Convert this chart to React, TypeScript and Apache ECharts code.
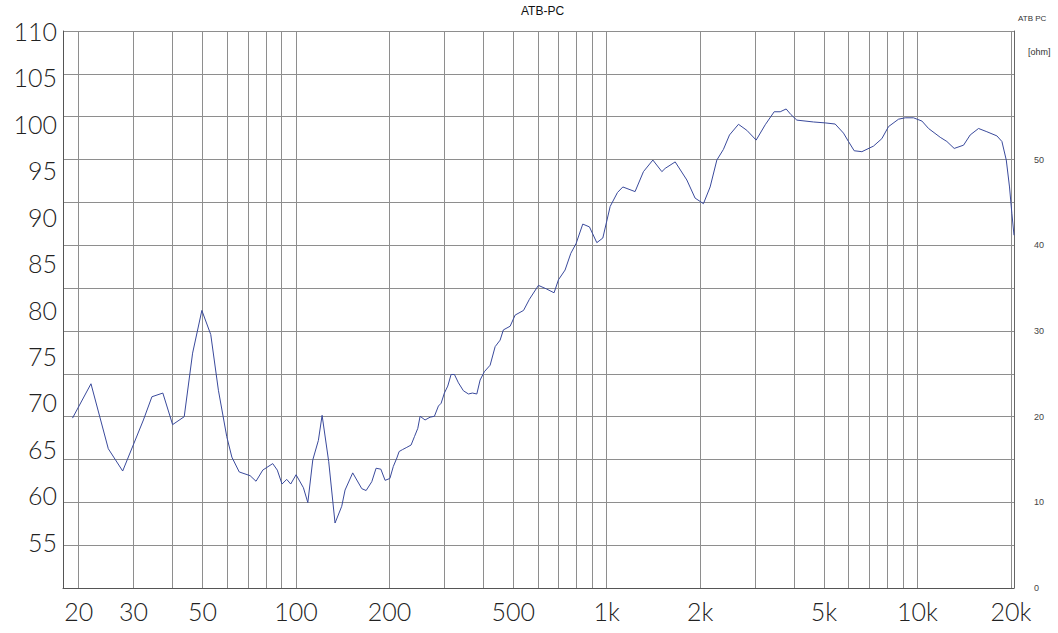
import React, { useEffect, useRef } from "react";
import * as echarts from "echarts";

// Frequency (Hz) of each traced point of the SPL curve
const FREQ = [
  19.1, 21.9, 24.9, 27.7, 32.3, 34.4, 37.3, 40.1, 43.7, 46.5,
  49.8, 53.2, 56.3, 59.9, 62.2, 65.7, 71.2, 74.4, 78.2, 84.2,
  87.1, 90.2, 93.4, 96.2, 100.1, 105.7, 109.2, 113.3, 118.1, 121.4,
  127.5, 133.6, 140.4, 143.9, 152.3, 162.9, 168.2, 175.4, 181.1, 187.6,
  193.6, 200.6, 205.8, 211.2, 214.8, 220, 227.4, 234.7, 240.6, 246.7,
  250.9, 260.3, 270.2, 279, 287.4, 293.2, 300.4, 308, 315.7, 323.6,
  333.4, 345.8, 359, 369.8, 382, 391.4, 404, 421.6, 437.6, 454,
  465, 489, 507.5, 540, 564, 603, 641.4, 677, 699.5, 734.6,
  766.5, 797, 837.6, 880, 929.5, 971.7, 1026, 1083, 1127, 1234,
  1313, 1408, 1505, 1542, 1661, 1811, 1925, 2048, 2152, 2262,
  2375, 2484, 2655, 2825, 3027, 3237, 3459, 3617, 3780, 3915,
  4092, 4629, 5047, 5435, 5781, 5998, 6258, 6625, 7219, 7681,
  8070, 8691, 9132, 9710, 10339, 10856, 11837, 12436, 13129, 14072,
  14780, 15724, 16723, 18019, 18699, 19311, 19781, 20130, 20450,
];

// SPL (dB) at each frequency above
const SPL = [
  68.3, 72.0, 65.0, 62.6, 68.1, 70.6, 71.0, 67.6, 68.45, 75.3,
  79.9, 77.3, 71.3, 66.3, 64.1, 62.5, 62.1, 61.5, 62.7, 63.4,
  62.7, 61.2, 61.7, 61.2, 62.2, 60.8, 59.2, 63.8, 65.9, 68.6,
  63.6, 57.0, 58.8, 60.55, 62.4, 60.7, 60.5, 61.45, 62.9, 62.8,
  61.6, 61.8, 63.1, 64.0, 64.7, 64.9, 65.15, 65.4, 66.3, 67.2,
  68.5, 68.1, 68.4, 68.5, 69.6, 69.9, 71.0, 71.75, 73.0, 73.0,
  72.1, 71.25, 70.9, 71.0, 70.9, 72.4, 73.3, 74.0, 76.0, 76.7,
  77.8, 78.2, 79.4, 79.9, 81.1, 82.6, 82.2, 81.8, 83.2, 84.25,
  86.05, 87.1, 89.2, 88.9, 87.2, 87.7, 91.1, 92.6, 93.2, 92.7,
  94.85, 96.1, 94.85, 95.2, 95.9, 93.95, 92.0, 91.4, 93.2, 96.1,
  97.25, 98.8, 99.95, 99.3, 98.25, 99.9, 101.3, 101.3, 101.6, 101.0,
  100.4, 100.2, 100.1, 99.98, 99.0, 98.1, 97.1, 97.0, 97.6, 98.4,
  99.7, 100.5, 100.65, 100.65, 100.3, 99.5, 98.55, 98.1, 97.35, 97.7,
  98.8, 99.5, 99.15, 98.7, 98.1, 96.1, 93.2, 90.35, 88.0,
];

// Vertical grid lines (Hz)
const GRID_FREQS = [
  20, 30, 40, 50, 60, 70, 80, 90, 100, 200, 300, 400, 500, 600, 700, 800, 900,
  1000, 2000, 3000, 4000, 5000, 6000, 7000, 8000, 9000, 10000, 20000,
];
// Labelled frequencies and their texts
const LABEL_FREQS = [20, 30, 50, 100, 200, 500, 1000, 2000, 5000, 10000, 20000];
const LABEL_TEXTS = ["20", "30", "50", "100", "200", "500", "1k", "2k", "5k", "10k", "20k"];

const X_MIN = 17.8;
const X_MAX = 20450;
const DB_MIN = 50;
const DB_MAX = 110;
const DB_STEP = 5;
const OHM_MIN = 0;
const OHM_MAX = 65;
const OHM_STEP = 5;

const TITLE = "ATB-PC";
const CORNER = "ATB PC";
const OHM_UNIT = "[ohm]";

const BIG_FONT = "Lato, 'Open Sans', 'DejaVu Sans', sans-serif";
const SMALL_FONT = "'Liberation Sans', Arial, sans-serif";

export default function App() {
  const ref = useRef<HTMLDivElement>(null);

  useEffect(() => {
    document.body.style.margin = "0";
    if (!ref.current) return;
    const chart = echarts.init(ref.current, null, { renderer: "svg" });

    const gridLines = GRID_FREQS.map((f) => {
      const idx = LABEL_FREQS.indexOf(f);
      return {
        xAxis: f,
        label:
          idx >= 0
            ? {
                show: true,
                position: "start",
                formatter: LABEL_TEXTS[idx],
                fontFamily: BIG_FONT,
                fontWeight: 300,
                fontSize: 25,
                color: "#222",
                distance: 10,
              }
            : { show: false },
      };
    });

    chart.setOption({
      animation: false,
      backgroundColor: "#ffffff",
      grid: { left: 63, top: 31, right: 44, bottom: 45, containLabel: false },
      xAxis: {
        type: "log",
        logBase: 10,
        min: X_MIN,
        max: X_MAX,
        axisLabel: { show: false },
        axisTick: { show: false },
        splitLine: { show: false },
        minorSplitLine: { show: false },
        axisLine: { show: true, lineStyle: { color: "#555", width: 1 } },
      },
      yAxis: [
        {
          type: "value",
          position: "left",
          min: DB_MIN,
          max: DB_MAX,
          interval: DB_STEP,
          splitLine: { show: false },
          axisTick: { show: false },
          axisLine: { show: true, lineStyle: { color: "#555", width: 1 } },
          axisLabel: {
            margin: 6,
            fontFamily: BIG_FONT,
            fontWeight: 300,
            fontSize: 25,
            color: "#222",
            formatter: (v: number) => (v === DB_MIN ? "" : String(v)),
          },
        },
        {
          type: "value",
          position: "right",
          min: OHM_MIN,
          max: OHM_MAX,
          interval: OHM_STEP,
          splitLine: { show: true, lineStyle: { color: "#8e8e8e", width: 1 } },
          axisTick: { show: false },
          axisLine: { show: true, lineStyle: { color: "#666", width: 1 } },
          axisLabel: {
            margin: 20,
            fontFamily: SMALL_FONT,
            fontSize: 9,
            color: "#444",
            formatter: (v: number) => (v % 10 === 0 && v <= 50 ? String(v) : ""),
          },
        },
      ],
      series: [
        {
          type: "line",
          xAxisIndex: 0,
          yAxisIndex: 1,
          data: [],
          silent: true,
          z: 1,
          markLine: {
            silent: true,
            symbol: ["none", "none"],
            animation: false,
            lineStyle: { color: "#8e8e8e", width: 1, type: "solid" },
            emphasis: { disabled: true },
            data: gridLines,
          },
        },
        {
          type: "line",
          xAxisIndex: 0,
          yAxisIndex: 0,
          z: 5,
          showSymbol: false,
          symbol: "none",
          silent: true,
          lineStyle: { color: "#3a4a9c", width: 1 },
          data: FREQ.map((f, i) => [f, SPL[i]]),
        },
      ],
      graphic: [
        {
          type: "text",
          left: 545 - 24,
          top: 5,
          style: { text: TITLE, fontFamily: SMALL_FONT, fontSize: 12, fill: "#111" },
        },
        {
          type: "text",
          left: 1018,
          top: 14,
          style: { text: CORNER, fontFamily: SMALL_FONT, fontSize: 8, fill: "#333" },
        },
        {
          type: "text",
          left: 1028,
          top: 47,
          style: { text: OHM_UNIT, fontFamily: SMALL_FONT, fontSize: 9, fill: "#333" },
        },
      ],
    });

    return () => chart.dispose();
  }, []);

  return <div ref={ref} style={{ width: 1058, height: 633 }} />;
}
